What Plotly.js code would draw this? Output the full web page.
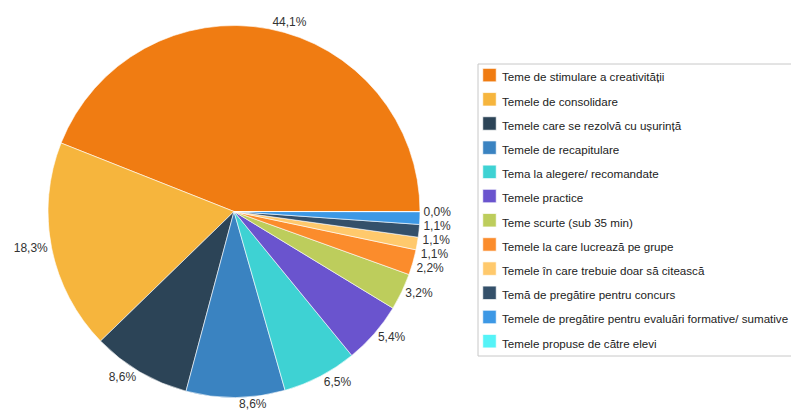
<!DOCTYPE html>
<html>
<head>
<meta charset="utf-8">
<script src="https://cdn.plot.ly/plotly-3.0.1.min.js"></script>
<style>
html,body{margin:0;padding:0;overflow:hidden;background:#fff;}
#chart{width:900px;height:413px;}
#chart path.textline{display:none;}
#chart path.legendpie{transform:translate(27.5px,0px) scale(1.12);}
</style>
</head>
<body>
<div id="chart"></div>
<script>
const categories = [
  "Teme de stimulare a creativității",
  "Temele de consolidare",
  "Temele care se rezolvă cu ușurință",
  "Temele de recapitulare",
  "Tema la alegere/ recomandate",
  "Temele practice",
  "Teme scurte (sub 35 min)",
  "Temele la care lucrează pe grupe",
  "Temele în care trebuie doar să citească",
  "Temă de pregătire pentru concurs",
  "Temele de pregătire pentru evaluări formative/ sumative",
  "Temele propuse de către elevi"
];
const percentages = [44.1, 18.3, 8.6, 8.6, 6.5, 5.4, 3.2, 2.2, 1.1, 1.1, 1.1, 0.0];
const colors = ["#F07C12", "#F6B53D", "#2C4457", "#3A83C1", "#3ED2D3", "#6A54CE",
                "#BDCD5C", "#FB8C2C", "#FFC96C", "#34506A", "#3C98E5", "#55F3F7"];

const labelsText = percentages.map(v => v.toFixed(1).replace('.', ',') + '%');
const legendNames = categories.map(c => '<span style="font-size:11.6px">' + c + '</span>');

const W = 900, H = 413;
const trace = {
  type: 'pie',
  labels: legendNames,
  values: percentages,
  text: labelsText,
  textinfo: 'text',
  textposition: 'outside',
  sort: false,
  direction: 'counterclockwise',
  rotation: -68.4,
  marker: {colors: colors, line: {color: '#ffffff', width: 0.6}},
  outsidetextfont: {family: 'Liberation Sans, Arial, sans-serif', size: 12, color: '#333333'},
  automargin: false,
  showlegend: true,
  hoverinfo: 'label+text',
  domain: {x: [48 / W, 420 / W], y: [1 - 398 / H, 1 - 25 / H]}
};

const layout = {
  width: W, height: H,
  margin: {l: 0, r: 0, t: 0, b: 0},
  paper_bgcolor: '#ffffff',
  font: {family: 'Liberation Sans, Arial, sans-serif', color: '#222222'},
  showlegend: true,
  legend: {
    x: 462 / W, y: 1 - 58 / H, xanchor: 'left', yanchor: 'top',
    borderwidth: 0,
    bgcolor: 'rgba(0,0,0,0)',
    font: {size: 16.3, color: '#222222'},
    itemwidth: 30,
    traceorder: 'normal'
  },
  shapes: [{
    type: 'rect', xref: 'paper', yref: 'paper',
    x0: 478 / W, x1: 1.05, y0: 1 - 356 / H, y1: 1 - 64 / H,
    line: {color: '#c8c8c8', width: 1}, fillcolor: 'rgba(0,0,0,0)', layer: 'below'
  }]
};

Plotly.newPlot('chart', [trace], layout, {displayModeBar: false, staticPlot: true});
</script>
</body>
</html>
